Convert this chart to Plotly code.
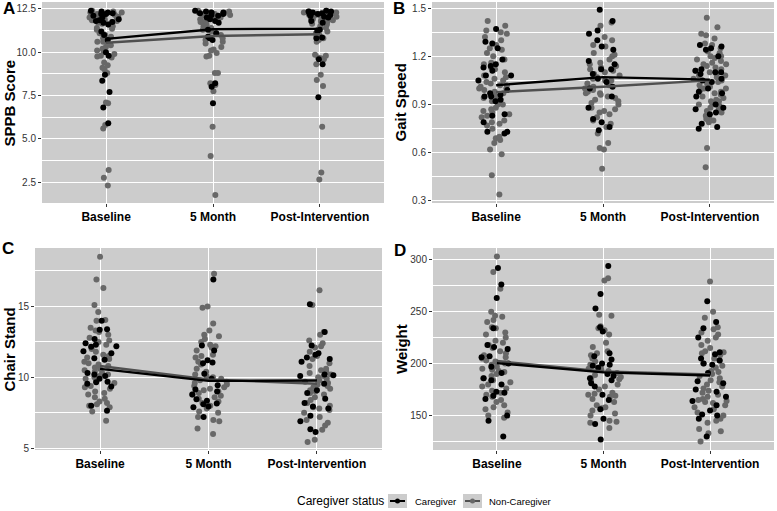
import plotly.graph_objects as go
from plotly.subplots import make_subplots

times = ["Baseline", "5 Month", "Post-Intervention"]

# ---- SPPB Score ----
sppb_cg_base = [12.4, 12.35, 12.3, 12.25, 12.2, 12.2, 12.1, 12.0, 11.9, 11.85, 11.8, 11.75, 11.7, 11.6, 11.2, 11.0, 10.7, 10.0, 9.8, 8.7, 8.35, 7.7, 6.8, 5.9]
sppb_ncg_base = [12.4, 12.35, 12.3, 12.3, 12.25, 12.2, 12.2, 12.15, 12.1, 12.1, 12.05, 12.0, 12.0, 11.95, 11.9, 11.9, 11.85, 11.8, 11.8, 11.75, 11.7, 11.65, 11.6, 11.5, 11.4, 11.35, 11.3, 11.1, 11.0, 10.9, 10.8, 10.65, 10.6, 10.6, 10.5, 10.4, 10.3, 10.2, 10.1, 10.0, 9.9, 9.8, 9.75, 9.7, 9.4, 9.25, 9.1, 9.0, 8.8, 7.1, 7.05, 5.8, 5.6, 3.2, 2.75, 2.3]
sppb_cg_5m = [12.4, 12.35, 12.3, 12.3, 12.25, 12.2, 12.15, 12.1, 12.0, 11.9, 11.8, 11.7, 11.3, 11.1, 10.9, 10.8, 10.7, 8.2, 8.0, 7.05]
sppb_ncg_5m = [12.4, 12.35, 12.3, 12.3, 12.25, 12.2, 12.2, 12.15, 12.1, 12.1, 12.0, 12.0, 11.95, 11.9, 11.85, 11.8, 11.75, 11.7, 11.6, 11.5, 11.4, 11.3, 11.2, 11.1, 11.0, 10.9, 10.8, 10.7, 10.6, 10.5, 10.3, 10.15, 10.1, 9.95, 9.8, 9.75, 8.8, 8.8, 8.2, 8.1, 8.05, 7.75, 5.7, 4.0, 1.75]
sppb_cg_post = [12.4, 12.35, 12.35, 12.3, 12.25, 12.2, 12.2, 12.15, 12.1, 12.05, 12.0, 11.8, 11.7, 11.3, 11.2, 10.85, 10.8, 9.6, 9.3, 7.4]
sppb_ncg_post = [12.4, 12.35, 12.3, 12.3, 12.3, 12.25, 12.2, 12.2, 12.15, 12.1, 12.1, 12.05, 12.0, 12.0, 11.95, 11.9, 11.9, 11.85, 11.8, 11.8, 11.75, 11.7, 11.65, 11.6, 11.5, 11.4, 11.3, 11.2, 11.1, 11.0, 10.9, 10.8, 10.7, 10.6, 9.85, 9.8, 9.7, 9.65, 9.6, 9.3, 8.7, 8.4, 8.05, 5.7, 3.05, 2.65]
sppb_mean_cg = [10.77, 11.33, 11.35]
sppb_mean_ncg = [10.55, 10.94, 11.04]

# ---- Gait Speed ----
gait_cg_base = [1.37, 1.29, 1.28, 1.25, 1.18, 1.15, 1.14, 1.13, 1.11, 1.08, 1.08, 1.05, 0.99, 0.97, 0.96, 0.95, 0.95, 0.93, 0.92, 0.84, 0.83, 0.79, 0.73, 0.73, 0.72]
gait_ncg_base = [1.42, 1.39, 1.36, 1.35, 1.34, 1.32, 1.30, 1.27, 1.25, 1.24, 1.22, 1.20, 1.18, 1.16, 1.15, 1.13, 1.12, 1.10, 1.08, 1.07, 1.06, 1.05, 1.04, 1.03, 1.02, 1.02, 1.01, 1.00, 1.00, 0.99, 0.98, 0.97, 0.96, 0.95, 0.94, 0.92, 0.90, 0.90, 0.88, 0.87, 0.86, 0.85, 0.84, 0.83, 0.82, 0.80, 0.79, 0.78, 0.77, 0.75, 0.70, 0.69, 0.68, 0.66, 0.62, 0.59, 0.46, 0.34]
gait_cg_5m = [1.49, 1.42, 1.36, 1.34, 1.30, 1.26, 1.24, 1.17, 1.15, 1.12, 1.12, 1.09, 1.06, 1.04, 1.01, 1.00, 0.95, 0.88, 0.81, 0.79, 0.76, 0.74]
gait_ncg_5m = [1.41, 1.39, 1.32, 1.30, 1.27, 1.26, 1.22, 1.21, 1.20, 1.18, 1.16, 1.15, 1.14, 1.13, 1.12, 1.11, 1.10, 1.09, 1.08, 1.07, 1.06, 1.05, 1.05, 1.04, 1.03, 1.02, 1.01, 1.00, 1.00, 0.99, 0.98, 0.97, 0.97, 0.96, 0.95, 0.94, 0.93, 0.92, 0.91, 0.90, 0.88, 0.87, 0.86, 0.85, 0.84, 0.82, 0.80, 0.78, 0.76, 0.72, 0.66, 0.63, 0.62, 0.50]
gait_cg_post = [1.27, 1.26, 1.25, 1.24, 1.20, 1.12, 1.11, 1.10, 1.10, 1.09, 1.06, 1.05, 1.04, 1.00, 0.98, 0.97, 0.95, 0.90, 0.88, 0.87, 0.85, 0.84, 0.78, 0.76, 0.75]
gait_ncg_post = [1.44, 1.38, 1.34, 1.33, 1.31, 1.28, 1.27, 1.25, 1.23, 1.22, 1.20, 1.20, 1.19, 1.18, 1.17, 1.16, 1.15, 1.15, 1.14, 1.13, 1.12, 1.11, 1.10, 1.09, 1.08, 1.08, 1.07, 1.06, 1.05, 1.04, 1.03, 1.02, 1.01, 1.00, 1.00, 0.99, 0.98, 0.97, 0.96, 0.95, 0.94, 0.93, 0.92, 0.92, 0.91, 0.90, 0.89, 0.88, 0.87, 0.86, 0.85, 0.83, 0.82, 0.81, 0.80, 0.79, 0.63, 0.51]
gait_mean_cg = [1.02, 1.07, 1.055]
gait_mean_ncg = [0.977, 1.01, 1.05]

# ---- Chair Stand ----
chair_cg_base = [14.0, 13.4, 13.35, 12.7, 12.4, 12.3, 12.2, 12.15, 11.85, 11.7, 11.35, 11.25, 10.3, 10.2, 10.1, 9.9, 9.7, 9.65, 9.55, 9.35, 8.0, 7.65]
chair_ncg_base = [18.5, 16.9, 16.3, 15.1, 14.6, 14.05, 14.0, 13.5, 13.3, 13.2, 13.0, 12.8, 12.6, 12.5, 12.3, 12.0, 11.8, 11.6, 11.5, 11.4, 11.3, 11.1, 11.0, 10.9, 10.8, 10.7, 10.6, 10.5, 10.4, 10.3, 10.2, 10.1, 10.0, 9.9, 9.8, 9.6, 9.4, 9.3, 9.2, 9.0, 8.9, 8.8, 8.6, 8.5, 8.3, 8.2, 8.1, 8.0, 7.9, 7.6, 6.95]
chair_cg_5m = [16.9, 12.25, 11.9, 11.2, 11.05, 11.0, 10.25, 9.9, 9.45, 9.15, 9.0, 8.8, 8.45, 8.35, 8.15, 8.1, 7.95, 7.9, 7.2]
chair_ncg_5m = [17.3, 15.0, 14.9, 13.8, 13.3, 13.0, 12.9, 12.7, 12.5, 12.3, 12.2, 12.1, 11.9, 11.6, 11.5, 11.4, 11.1, 10.9, 10.6, 10.4, 10.2, 10.1, 10.0, 9.9, 9.8, 9.7, 9.6, 9.5, 9.4, 9.3, 9.2, 9.1, 9.0, 8.9, 8.8, 8.7, 8.6, 8.5, 8.3, 8.2, 8.0, 7.8, 7.6, 7.5, 7.2, 7.0, 6.9, 6.4, 6.0]
chair_cg_post = [15.15, 13.2, 12.25, 11.7, 11.6, 11.4, 11.3, 11.1, 10.2, 10.15, 10.1, 9.55, 9.1, 8.9, 8.5, 8.2, 7.95, 7.8, 7.3, 6.9, 6.35, 6.15]
chair_ncg_post = [16.15, 15.1, 13.2, 13.0, 12.6, 12.4, 12.2, 12.1, 11.8, 11.5, 11.3, 11.0, 10.8, 10.6, 10.5, 10.4, 10.3, 10.2, 10.1, 10.0, 9.9, 9.8, 9.7, 9.6, 9.5, 9.4, 9.3, 9.2, 9.1, 9.0, 8.9, 8.8, 8.6, 8.4, 8.2, 8.0, 7.9, 7.8, 7.7, 7.5, 7.2, 7.0, 6.8, 6.6, 6.3, 5.6, 5.45]
chair_mean_cg = [10.6, 9.75, 9.78]
chair_mean_ncg = [10.8, 9.85, 9.55]

# ---- Weight ----
weight_cg_base = [292, 276, 263, 234, 218, 216, 214, 207, 206, 200, 197, 191, 186, 184, 180, 173, 172, 169, 166, 150, 145, 130]
weight_ncg_base = [303, 288, 272, 250, 246, 245, 242, 240, 235, 234, 230, 228, 225, 222, 220, 218, 215, 212, 210, 208, 206, 205, 203, 202, 200, 199, 197, 195, 194, 193, 192, 190, 188, 186, 184, 182, 180, 178, 176, 174, 172, 170, 168, 165, 163, 160, 158, 156, 153, 150, 148]
weight_cg_5m = [294, 267, 253, 235, 231, 210, 207, 204, 200, 199, 198, 196, 190, 188, 186, 184, 181, 178, 170, 165, 156, 147, 142, 127]
weight_ncg_5m = [282, 280, 247, 246, 236, 234, 232, 228, 220, 216, 212, 210, 208, 205, 202, 199, 197, 195, 194, 193, 191, 189, 187, 186, 185, 183, 180, 178, 175, 172, 171, 170, 169, 168, 166, 163, 160, 158, 157, 155, 152, 150, 145, 144, 143, 138]
weight_cg_post = [260, 240, 234, 225, 211, 209, 205, 203, 200, 199, 191, 183, 181, 175, 173, 168, 164, 160, 155, 151, 150, 147, 130]
weight_ncg_post = [279, 250, 244, 235, 233, 230, 228, 225, 222, 218, 215, 212, 211, 210, 208, 205, 203, 200, 198, 196, 193, 192, 190, 188, 186, 184, 182, 180, 178, 176, 174, 172, 170, 168, 166, 165, 164, 163, 162, 160, 158, 156, 153, 150, 147, 145, 143, 137, 135, 133, 125]
weight_mean_cg = [200.5, 191.6, 188.5]
weight_mean_ncg = [202.5, 192.5, 189.5]

# ---------------- styling ----------------
W, H = 777, 511
FONT = "Liberation Sans, Arial, sans-serif"
BG = "#CCCCCC"
C_CG = "#000000"
C_NCG = "#686868"
L_NCG = "#505050"

panels = [
    dict(name="SPPB Score", letter="A", row=1, col=1,
         cg=[sppb_cg_base, sppb_cg_5m, sppb_cg_post], ncg=[sppb_ncg_base, sppb_ncg_5m, sppb_ncg_post],
         mcg=sppb_mean_cg, mncg=sppb_mean_ncg,
         rng=[1.29, 12.9], tv=[2.5, 5.0, 7.5, 10.0, 12.5], fmt=".1f", minor=(1.25, 2.5),
         px=(42, 384), py=(2, 203), title_xy=(8.5, 103), letter_xy=(8.5, 9)),
    dict(name="Gait Speed", letter="B", row=1, col=2,
         cg=[gait_cg_base, gait_cg_5m, gait_cg_post], ncg=[gait_ncg_base, gait_ncg_5m, gait_ncg_post],
         mcg=gait_mean_cg, mncg=gait_mean_ncg,
         rng=[0.2875, 1.5375], tv=[0.3, 0.6, 0.9, 1.2, 1.5], fmt=".1f", minor=(0.15, 0.3),
         px=(432, 774), py=(2, 203), title_xy=(399.5, 103), letter_xy=(398.5, 9)),
    dict(name="Chair Stand", letter="C", row=2, col=1,
         cg=[chair_cg_base, chair_cg_5m, chair_cg_post], ncg=[chair_ncg_base, chair_ncg_5m, chair_ncg_post],
         mcg=chair_mean_cg, mncg=chair_mean_ncg,
         rng=[4.88, 19.12], tv=[5, 10, 15], fmt="d", minor=(2.5, 5),
         px=(35, 382), py=(248, 450), title_xy=(8.5, 350), letter_xy=(7.5, 249)),
    dict(name="Weight", letter="D", row=2, col=2,
         cg=[weight_cg_base, weight_cg_5m, weight_cg_post], ncg=[weight_ncg_base, weight_ncg_5m, weight_ncg_post],
         mcg=weight_mean_cg, mncg=weight_mean_ncg,
         rng=[116.9, 311.2], tv=[150, 200, 250, 300], fmt="d", minor=(125, 50),
         px=(433, 774), py=(248, 450), title_xy=(401, 349), letter_xy=(399.5, 250)),
]

fig = make_subplots(rows=2, cols=2)


def flat(groups):
    xs, ys = [], []
    for t, vals in zip(times, groups):
        xs += [t] * len(vals)
        ys += list(vals)
    return xs, ys


annotations = []
for i, p in enumerate(panels):
    r, c = p["row"], p["col"]
    for groups, col in ((p["ncg"], C_NCG), (p["cg"], C_CG)):
        xs, ys = flat(groups)
        fig.add_trace(go.Box(
            x=xs, y=ys, boxpoints="all", jitter=1.0, pointpos=0, width=0.34,
            fillcolor="rgba(0,0,0,0)", line=dict(width=0, color="rgba(0,0,0,0)"),
            marker=dict(color=col, size=6, line=dict(width=0)),
            hoveron="points", showlegend=False), row=r, col=c)
    fig.add_trace(go.Scatter(x=times, y=p["mncg"], mode="lines",
                             line=dict(color=L_NCG, width=2.4), showlegend=False), row=r, col=c)
    fig.add_trace(go.Scatter(x=times, y=p["mcg"], mode="lines",
                             line=dict(color=C_CG, width=2.4), showlegend=False), row=r, col=c)

    xdom = [p["px"][0] / W, p["px"][1] / W]
    ydom = [1 - p["py"][1] / H, 1 - p["py"][0] / H]
    fig.update_xaxes(domain=xdom, type="category", categoryorder="array", categoryarray=times,
                     range=[-0.6, 2.6], showgrid=True, gridcolor="white", gridwidth=1.2,
                     ticks="outside", ticklen=3, tickcolor="#333333", tickwidth=1,
                     tickfont=dict(family=FONT, size=12, color="black", weight="bold"),
                     zeroline=False, showline=False, automargin=False, row=r, col=c)
    fig.update_yaxes(domain=ydom, range=p["rng"], tickvals=p["tv"], tickformat=p["fmt"],
                     showgrid=True, gridcolor="white", gridwidth=1.2,
                     minor=dict(tick0=p["minor"][0], dtick=p["minor"][1], showgrid=True,
                                gridcolor="white", gridwidth=0.5, ticks=""),
                     ticks="outside", ticklen=3, tickcolor="#333333", tickwidth=1,
                     tickfont=dict(family=FONT, size=10, color="#333333"),
                     zeroline=False, showline=False, automargin=False, row=r, col=c)

    tx, ty = p["title_xy"]
    annotations.append(dict(text="<b>%s</b>" % p["name"], x=tx / W, y=1 - ty / H, xref="paper", yref="paper",
                            showarrow=False, textangle=-90, xanchor="center", yanchor="middle",
                            font=dict(family=FONT, size=15, color="black")))
    lx, ly = p["letter_xy"]
    annotations.append(dict(text="<b>%s</b>" % p["letter"], x=lx / W, y=1 - ly / H, xref="paper", yref="paper",
                            showarrow=False, xanchor="center", yanchor="middle",
                            font=dict(family=FONT, size=17, color="black")))

# ---- legend (drawn manually to mimic ggplot key boxes) ----
LY = 501
shapes = []
legend_items = [("Caregiver", C_CG, C_CG, 388, 413), ("Non-Caregiver", L_NCG, C_NCG, 463, 487)]
annotations.append(dict(text="Caregiver status", x=295 / W, y=1 - LY / H, xref="paper", yref="paper",
                        showarrow=False, xanchor="left", yanchor="middle",
                        font=dict(family=FONT, size=12, color="black")))
for label, lcol, mcol, kx, tx in legend_items:
    shapes.append(dict(type="rect", xref="paper", yref="paper", x0=kx / W, x1=(kx + 19) / W,
                       y0=1 - (LY + 7) / H, y1=1 - (LY - 7) / H, fillcolor=BG, line=dict(width=0)))
    shapes.append(dict(type="line", xref="paper", yref="paper", x0=(kx + 2) / W, x1=(kx + 17) / W,
                       y0=1 - LY / H, y1=1 - LY / H, line=dict(color=lcol, width=2)))
    shapes.append(dict(type="circle", xref="paper", yref="paper", x0=(kx + 7) / W, x1=(kx + 12) / W,
                       y0=1 - (LY + 2.5) / H, y1=1 - (LY - 2.5) / H, fillcolor=mcol, line=dict(width=0)))
    annotations.append(dict(text=label, x=tx / W, y=1 - LY / H, xref="paper", yref="paper",
                            showarrow=False, xanchor="left", yanchor="middle",
                            font=dict(family=FONT, size=9.5, color="black")))

fig.update_layout(width=W, height=H, margin=dict(l=0, r=0, t=0, b=0),
                  paper_bgcolor="white", plot_bgcolor=BG, boxmode="overlay", showlegend=False,
                  font=dict(family=FONT), annotations=annotations, shapes=shapes)

fig.write_html("out.html", config={"displayModeBar": False},
               post_script="document.body.style.margin='0';document.body.style.overflow='hidden';")
